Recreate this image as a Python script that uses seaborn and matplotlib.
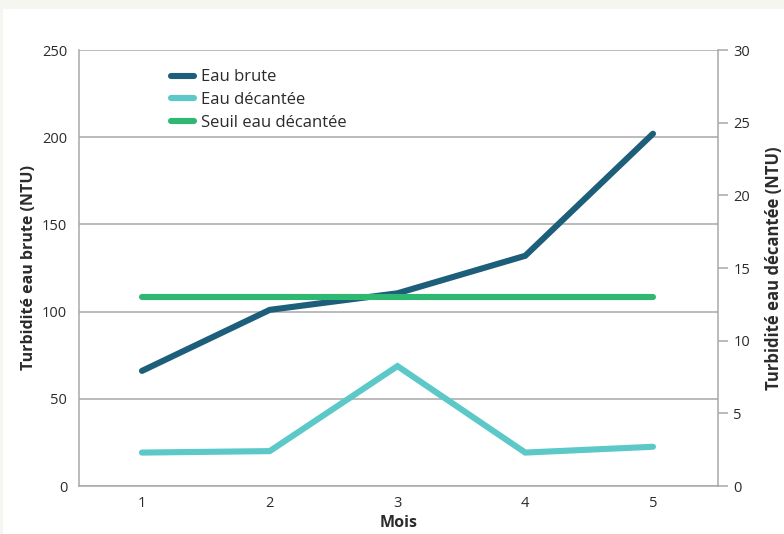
import matplotlib
matplotlib.use("Agg")
import matplotlib.pyplot as plt
import seaborn as sns
from matplotlib.patches import Rectangle

sns.set_style("white")
plt.rcParams["font.family"] = ["Open Sans", "DejaVu Sans"]

# Data
mois = [1, 2, 3, 4, 5]
eau_brute = [66, 101, 110.5, 132, 202]          # left axis, NTU
eau_decantee = [2.3, 2.4, 8.25, 2.3, 2.7]        # right axis, NTU
seuil_decantee = [13, 13, 13, 13, 13]            # right axis, NTU

left_ticks = [0, 50, 100, 150, 200, 250]
right_ticks = [0, 5, 10, 15, 20, 25, 30]

COL_BRUTE = "#1d5e7a"
COL_DECANT = "#5cc8c8"
COL_SEUIL = "#2eb872"
GRID = "#a8a8a8"
TXT = "#2b2b2b"

fig = plt.figure(figsize=(7.84, 5.34), dpi=100, facecolor="#f6f6f1")
# white card behind the chart
fig.patches.append(Rectangle((3 / 784, 0), 1, 1 - 9 / 534, transform=fig.transFigure,
                             facecolor="white", edgecolor="none", zorder=-5))
ax = fig.add_axes([79 / 784, 48 / 534, (718 - 79) / 784, (486 - 50) / 534])
ax.set_facecolor("none")
ax2 = ax.twinx()

lw = 4.4
sns.lineplot(x=mois, y=eau_brute, ax=ax, color=COL_BRUTE, linewidth=lw,
             solid_capstyle="round", solid_joinstyle="miter", label="Eau brute", legend=False)
sns.lineplot(x=mois, y=eau_decantee, ax=ax2, color=COL_DECANT, linewidth=lw,
             solid_capstyle="round", solid_joinstyle="miter", label="Eau décantée", legend=False)
sns.lineplot(x=mois, y=seuil_decantee, ax=ax2, color=COL_SEUIL, linewidth=lw,
             solid_capstyle="round", label="Seuil eau décantée", legend=False)

ax.set_xlim(0.507, 5.509)
ax.set_ylim(0, 250)
ax2.set_ylim(0, 30)
ax.set_xticks(mois)
ax.set_yticks(left_ticks)
ax2.set_yticks(right_ticks)

ax.yaxis.grid(True, color=GRID, linewidth=1.1)
ax.xaxis.grid(False)
ax2.grid(False)

for a in (ax, ax2):
    for side in ("left", "right", "top", "bottom"):
        a.spines[side].set_visible(False)
ax.spines["left"].set_visible(True)
ax.spines["bottom"].set_visible(True)
ax2.spines["right"].set_visible(True)
for sp in (ax.spines["left"], ax.spines["bottom"], ax2.spines["right"]):
    sp.set_color(GRID)
    sp.set_linewidth(1.1)

ax.tick_params(axis="y", left=False, labelsize=10.5, labelcolor=TXT, pad=5)
ax.tick_params(axis="x", bottom=False, labelsize=10.5, labelcolor=TXT, pad=4)
ax2.tick_params(axis="y", right=True, length=7, width=1.1, color=GRID,
                labelsize=10.5, labelcolor=TXT, pad=4)

ax.set_xlabel("Mois", fontsize=11.5, fontweight="bold", color=TXT)
ax.xaxis.set_label_coords(0.5, -0.066)
ax.set_ylabel("Turbidité eau brute (NTU)", fontsize=11.5, fontweight="bold", color=TXT)
ax.yaxis.set_label_coords(-0.066, 0.5)
ax2.set_ylabel("Turbidité eau décantée (NTU)", fontsize=12, fontweight="bold", color=TXT)
ax2.yaxis.set_label_coords(1.073, 0.5)

handles = ax.get_lines()[:1] + ax2.get_lines()[:2]
leg = ax2.legend(handles, [h.get_label() for h in handles], loc="upper left",
                 bbox_to_anchor=(0.12, 0.99), frameon=False, fontsize=12,
                 handlelength=1.4, handletextpad=0.4, labelspacing=0.4)
for t in leg.get_texts():
    t.set_color(TXT)

fig.savefig("out.png", dpi=100, facecolor=fig.get_facecolor())
